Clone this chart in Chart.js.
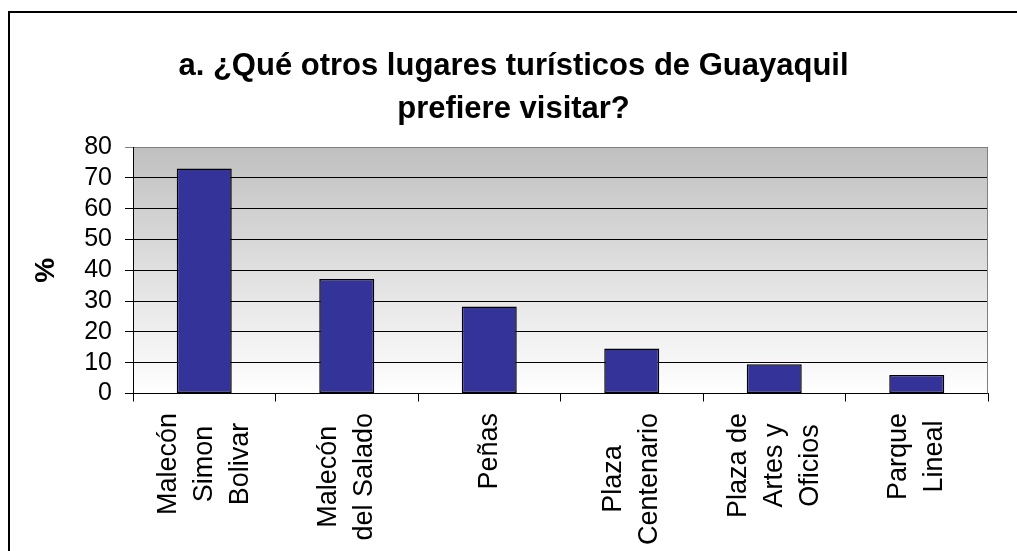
<!DOCTYPE html>
<html>
<head>
<meta charset="utf-8">
<script src="https://cdn.jsdelivr.net/npm/chart.js@4"></script>
<style>
	body { margin: 0; background: #fff; }
	canvas { display: block; }
</style>
</head>
<body>
<canvas id="chart" width="1017" height="551"></canvas>
<script>
const lugares = [
	['Malecón', 'Simon', 'Bolivar'],
	['Malecón', 'del Salado'],
	['Peñas'],
	['Plaza', 'Centenario'],
	['Plaza de', 'Artes y', 'Oficios'],
	['Parque', 'Lineal'],
];
const porcentajes = [73, 37.2, 28.2, 14.6, 9.5, 6];
const yTicks = [0, 10, 20, 30, 40, 50, 60, 70, 80];
const titulo = ['a. ¿Qué otros lugares turísticos de Guayaquil', 'prefiere visitar?'];

const fontFamily = '"Liberation Sans", Arial, sans-serif';
Chart.defaults.color = '#000';
Chart.defaults.font.family = fontFamily;

// frame, plot background and the right edge of the plot
const fondo = {
	id: 'fondo',
	beforeDraw(chart) {
		const { ctx, chartArea: a } = chart;
		ctx.save();
		ctx.fillStyle = '#fff';
		ctx.fillRect(0, 0, chart.width, chart.height);
		ctx.strokeStyle = '#000';
		ctx.lineWidth = 2;
		ctx.strokeRect(9, 12, chart.width + 20, chart.height + 20);

		const g = ctx.createLinearGradient(0, a.top, 0, a.bottom);
		g.addColorStop(0, '#c0c0c0');
		g.addColorStop(1, '#ffffff');
		ctx.fillStyle = g;
		ctx.fillRect(a.left, a.top, a.right - a.left, a.bottom - a.top);
		ctx.restore();
	},
	beforeDatasetsDraw(chart) {
		const { ctx, chartArea: a } = chart;
		ctx.save();
		ctx.strokeStyle = '#808080';
		ctx.lineWidth = 1;
		ctx.beginPath();
		ctx.moveTo(a.right - 0.5, a.top);
		ctx.lineTo(a.right - 0.5, a.bottom);
		ctx.stroke();
		ctx.restore();
	}
};

// vertical category labels, lines centred on each other, block starting under the axis
const etiquetas = {
	id: 'etiquetas',
	afterDraw(chart) {
		const { ctx } = chart;
		const x = chart.scales.x;
		ctx.save();
		ctx.font = '27px ' + fontFamily;
		ctx.fillStyle = '#000';
		ctx.textAlign = 'center';
		ctx.textBaseline = 'middle';
		lugares.forEach((lineas, i) => {
			const maxW = Math.max(...lineas.map((l) => ctx.measureText(l).width));
			ctx.save();
			ctx.translate(x.getPixelForValue(i), x.top + 19.5 + maxW / 2);
			ctx.rotate(-Math.PI / 2);
			lineas.forEach((l, j) => {
				ctx.fillText(l, 0, (j - (lineas.length - 1) / 2) * 36);
			});
			ctx.restore();
		});
		ctx.restore();
	}
};

new Chart(document.getElementById('chart'), {
	type: 'bar',
	data: {
		labels: lugares,
		datasets: [{
			data: porcentajes,
			backgroundColor: '#333399',
			borderColor: '#000',
			borderWidth: 1.5,
			borderSkipped: false,
			barPercentage: 0.386,
			categoryPercentage: 1,
		}]
	},
	options: {
		responsive: false,
		animation: false,
		layout: { padding: { left: 39, right: 29, top: 0, bottom: 0 } },
		plugins: {
			legend: { display: false },
			tooltip: { enabled: false },
			title: {
				display: true,
				text: titulo,
				font: { size: 31, weight: 'bold', lineHeight: 43 / 31 },
				padding: { top: 44.5, bottom: 16.5 },
			}
		},
		scales: {
			x: {
				grid: {
					offset: true,
					drawOnChartArea: false,
					tickLength: 8,
					color: '#000',
				},
				border: { color: '#000', width: 1 },
				ticks: { display: false },
				afterFit(scale) { scale.height = 157.5; }
			},
			y: {
				min: 0,
				max: 80,
				afterBuildTicks(scale) { scale.ticks = yTicks.map((v) => ({ value: v })); },
				grid: {
					tickLength: 8,
					color: (c) => (c.tick && c.tick.value === 80 ? '#808080' : '#000'),
				},
				border: { color: '#000', width: 1 },
				ticks: { font: { size: 25 }, padding: 13, autoSkip: false },
				title: {
					display: true,
					text: '%',
					font: { size: 28, weight: 'bold' },
					padding: { top: -10, bottom: 0 },
				},
				afterFit(scale) { scale.width = 94; }
			}
		}
	},
	plugins: [fondo, etiquetas]
});
</script>
</body>
</html>
